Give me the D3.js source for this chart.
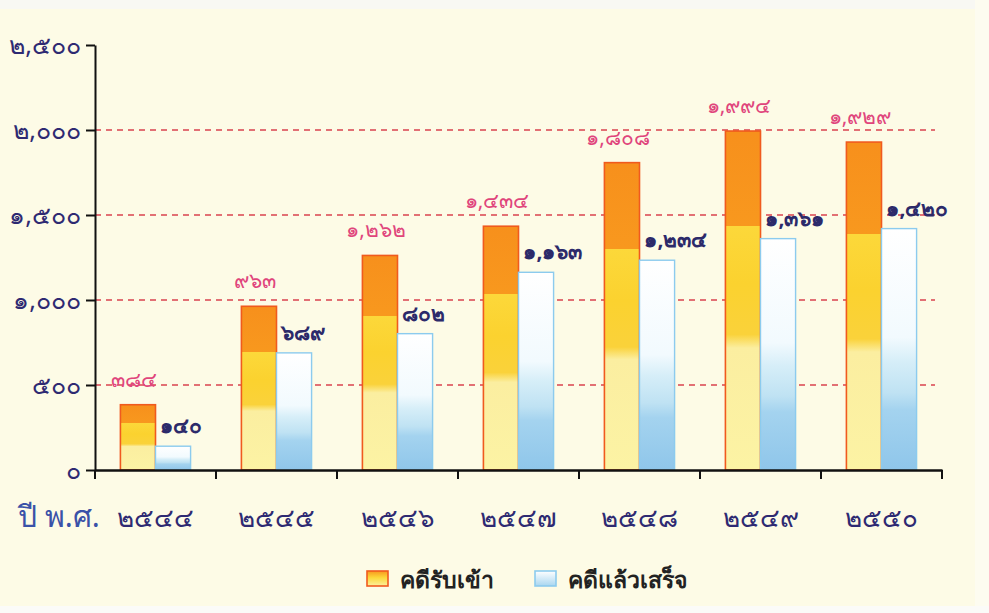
<!DOCTYPE html>
<html><head><meta charset="utf-8">
<script src="https://cdn.jsdelivr.net/npm/d3@7"></script>
<style>
html,body{margin:0;padding:0;background:#fdfbe6;}
svg{display:block;}
text{font-family:"Noto Sans","DejaVu Sans",sans-serif;}
</style></head>
<body>
<svg id="chart" width="989" height="613"></svg>
<script>
const years = ["๒๕๔๔","๒๕๔๕","๒๕๔๖","๒๕๔๗","๒๕๔๘","๒๕๔๙","๒๕๕๐"];
const received = [384, 963, 1262, 1434, 1808, 1994, 1929];
const finished = [140, 689, 802, 1163, 1234, 1361, 1420];
const receivedLabels = ["๓๘๔","๙๖๓","๑,๒๖๒","๑,๔๓๔","๑,๘๐๘","๑,๙๙๔","๑,๙๒๙"];
const finishedLabels = ["๑๔๐","๖๘๙","๘๐๒","๑,๑๖๓","๑,๒๓๔","๑,๓๖๑","๑,๔๒๐"];
const yTicks = [0, 500, 1000, 1500, 2000, 2500];
const yTickLabels = ["๐","๕๐๐","๑,๐๐๐","๑,๕๐๐","๒,๐๐๐","๒,๕๐๐"];
const seriesNames = ["คดีรับเข้า","คดีแล้วเสร็จ"];
const xTitle = "ปี พ.ศ.";

const svg = d3.select("#chart");
const W = 989, H = 613;
const m = {left:95, right:47, top:45, bottom:143};
const iw = W - m.left - m.right, ih = H - m.top - m.bottom;
const FONT = "'Noto Sans','DejaVu Sans',sans-serif";

svg.append("rect").attr("width",W).attr("height",H).attr("fill","#fdfbe6");
svg.append("rect").attr("width",W).attr("height",9).attr("fill","#f8f8f3");
svg.append("rect").attr("x",975).attr("width",14).attr("height",H).attr("fill","#fdfcf0");
svg.append("rect").attr("y",606).attr("width",W).attr("height",7).attr("fill","#fbfbf8");

const defs = svg.append("defs");
const gO = defs.append("linearGradient").attr("id","gOrange").attr("x1",0).attr("y1",0).attr("x2",0).attr("y2",1);
[[0,"#f7901c"],[0.28,"#f8981e"],[0.28,"#fcd83a"],[0.45,"#fbd22f"],[0.6,"#fad23a"],[0.64,"#fbeea0"],[1,"#fcf3a4"]]
  .forEach(([o,c])=>gO.append("stop").attr("offset",o).attr("stop-color",c));
const gB = defs.append("linearGradient").attr("id","gBlue").attr("x1",0).attr("y1",0).attr("x2",0).attr("y2",1);
[[0,"#ffffff"],[0.45,"#f2fafe"],[0.55,"#d6eef8"],[0.68,"#bfe2f3"],[0.75,"#a4d3ef"],[1,"#8fc6ea"]]
  .forEach(([o,c])=>gB.append("stop").attr("offset",o).attr("stop-color",c));
const gLO = defs.append("linearGradient").attr("id","gLegO").attr("x1",0).attr("y1",0).attr("x2",0).attr("y2",1);
[[0,"#f8981e"],[0.45,"#fcd83a"],[1,"#fcf0a0"]].forEach(([o,c])=>gLO.append("stop").attr("offset",o).attr("stop-color",c));
const gLB = defs.append("linearGradient").attr("id","gLegB").attr("x1",0).attr("y1",0).attr("x2",0).attr("y2",1);
[[0,"#ffffff"],[1,"#a8d6f0"]].forEach(([o,c])=>gLB.append("stop").attr("offset",o).attr("stop-color",c));

const g = svg.append("g").attr("transform",`translate(${m.left},${m.top})`);

const x0 = d3.scaleBand().domain(years).range([0,iw]).paddingInner(0.42).paddingOuter(0.21);
const x1 = d3.scaleBand().domain([0,1]).range([0,x0.bandwidth()]);
const xb = d3.scaleBand().domain(years).range([0,iw]);
const y = d3.scaleLinear().domain([0,2500]).range([ih,0]);

// grid lines
g.append("g").selectAll("line").data(yTicks.filter(v=>v>0 && v<2500)).join("line")
  .attr("x1",0).attr("x2",iw-7).attr("y1",d=>y(d)).attr("y2",d=>y(d))
  .attr("stroke","#d9434f").attr("stroke-width",1.3).attr("stroke-dasharray","6,5");

// bars
const groups = g.append("g").selectAll("g").data(years).join("g")
  .attr("transform",d=>`translate(${x0(d)},0)`);
groups.append("rect")
  .attr("x",x1(0)).attr("width",x1.bandwidth())
  .attr("y",(d,i)=>y(received[i])).attr("height",(d,i)=>ih-y(received[i]))
  .attr("fill","url(#gOrange)").attr("stroke","#f05a1e").attr("stroke-width",1.6);
groups.append("rect")
  .attr("x",x1(1)).attr("width",x1.bandwidth())
  .attr("y",(d,i)=>y(finished[i])).attr("height",(d,i)=>ih-y(finished[i]))
  .attr("fill","url(#gBlue)").attr("stroke","#8ccbee").attr("stroke-width",1.4);

// value labels
groups.append("text")
  .attr("x",x1(0)+x1.bandwidth()/2-4).attr("y",(d,i)=>y(received[i])-18)
  .attr("text-anchor","middle").attr("fill","#e0457c").attr("font-size",21)
  .text((d,i)=>receivedLabels[i]);
groups.append("text")
  .attr("x",x1(1)+5).attr("y",(d,i)=>y(finished[i])-13)
  .attr("text-anchor","start").attr("fill","#2c2a6a").attr("font-size",21).attr("font-weight","bold")
  .text((d,i)=>finishedLabels[i]);

// axes
const yAxis = d3.axisLeft(y).tickValues(yTicks).tickFormat((d,i)=>yTickLabels[i]).tickSize(9).tickSizeOuter(0);
const ya = g.append("g").call(yAxis);
ya.select(".domain").attr("stroke","#111").attr("stroke-width",2);
ya.selectAll(".tick line").attr("stroke","#111").attr("stroke-width",2);
ya.selectAll(".tick text").attr("fill","#2e2a72").attr("font-size",25).attr("font-family",FONT).attr("dx",-2);

const xAxis = d3.axisBottom(xb).tickSize(0).tickFormat(d=>d);
const xa = g.append("g").attr("transform",`translate(0,${ih})`).call(xAxis);
xa.select(".domain").attr("stroke","#111").attr("stroke-width",2.4);
xa.selectAll(".tick text").attr("fill","#2e2a72").attr("font-size",26).attr("y",57).attr("dy",0)
  .attr("font-family",FONT);
// band boundary ticks
xa.append("g").selectAll("line").data(years.concat(["end"])).join("line")
  .attr("x1",(d,i)=>i<years.length?xb(d):iw).attr("x2",(d,i)=>i<years.length?xb(d):iw)
  .attr("y1",0).attr("y2",9).attr("stroke","#111").attr("stroke-width",2);

svg.append("text").attr("x",18).attr("y",527).attr("fill","#3a52a8").attr("font-size",30)
  .text(xTitle);

// legend
const legend = svg.append("g").attr("transform","translate(367,571)");
const li = legend.selectAll("g").data(seriesNames).join("g").attr("transform",(d,i)=>`translate(${i*168},0)`);
li.append("rect").attr("width",21).attr("height",15)
  .attr("fill",(d,i)=>i===0?"url(#gLegO)":"url(#gLegB)")
  .attr("stroke",(d,i)=>i===0?"#f05a1e":"#8ccbee").attr("stroke-width",1.6);
li.append("text").attr("x",33).attr("y",17).attr("fill","#222").attr("font-size",23).attr("font-weight","bold")
  .text(d=>d);
</script>
</body></html>
